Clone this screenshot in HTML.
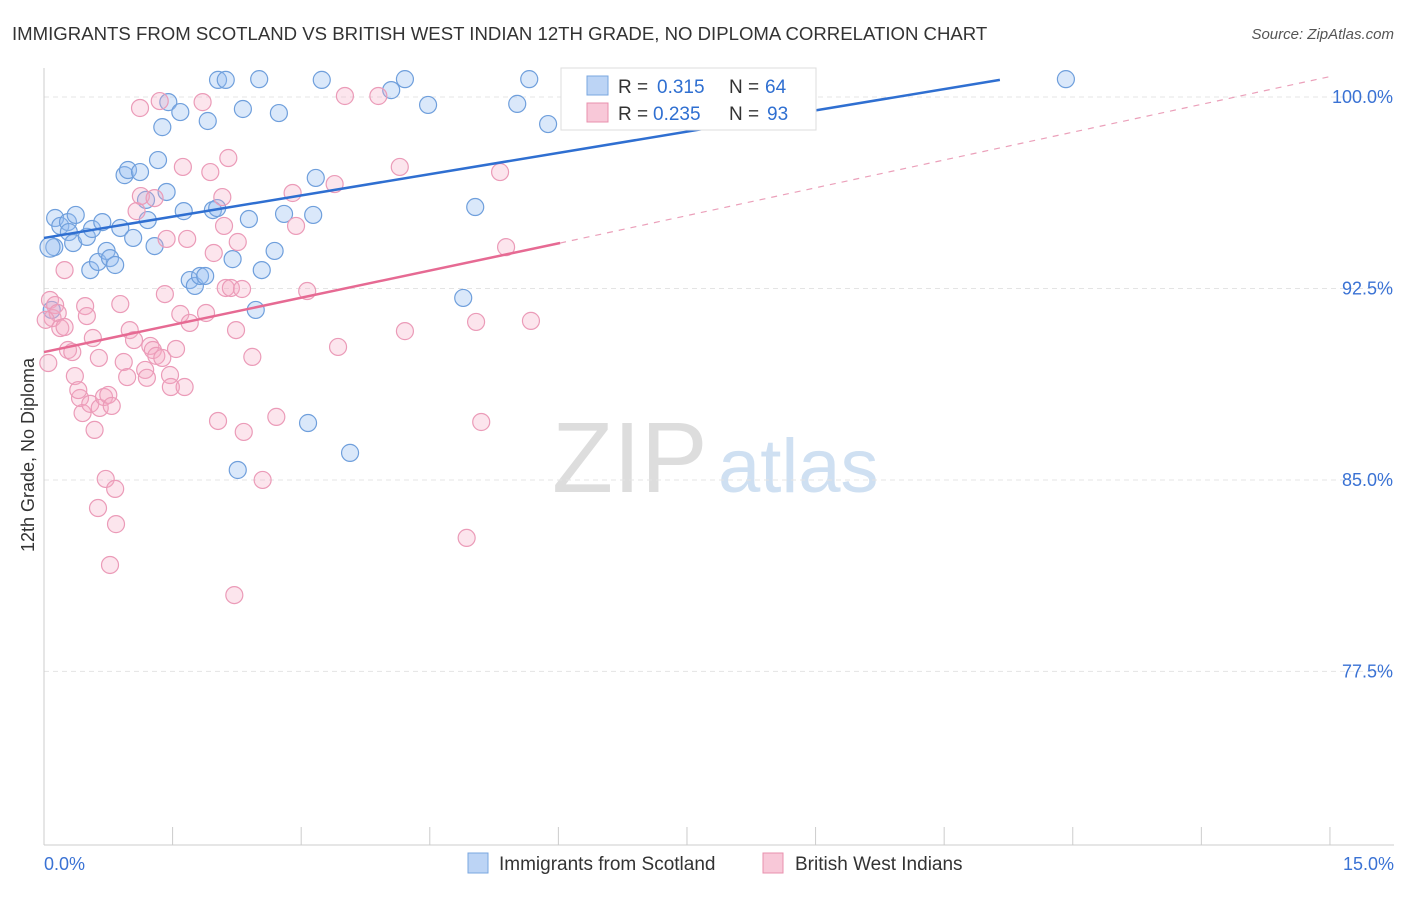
<!DOCTYPE html>
<html><head><meta charset="utf-8"><style>
body{margin:0;background:#fff;font-family:"Liberation Sans",sans-serif}
svg text{font-family:"Liberation Sans",sans-serif}
</style></head><body>
<svg id="c" width="1406" height="892">
<text x="12" y="40" font-size="18.6" fill="#333">IMMIGRANTS FROM SCOTLAND VS BRITISH WEST INDIAN 12TH GRADE, NO DIPLOMA CORRELATION CHART</text>
<text x="1394" y="39" font-size="15" fill="#555" font-style="italic" text-anchor="end">Source: ZipAtlas.com</text>
<text x="34" y="455" font-size="18" fill="#333" text-anchor="middle" transform="rotate(-90 34 455)">12th Grade, No Diploma</text>
<text x="552" y="492" font-size="100" fill="#ddd" font-family="Liberation Serif">ZIP</text>
<text x="718" y="492" font-size="76" fill="#cfe0f2">atlas</text>
<g id="grid"></g><g id="pts"></g><g id="lines"></g>
<g>
<rect x="561" y="68" width="255" height="62" fill="#fff" stroke="#ddd"/>
<rect x="587" y="76" width="21" height="19" fill="#bcd4f5" stroke="#7aa7e0"/>
<text x="618" y="93" font-size="19" fill="#333">R =</text><text x="657" y="93" font-size="19" fill="#2f6fd1">0.315</text>
<text x="729" y="93" font-size="19" fill="#333">N =</text><text x="765" y="93" font-size="19" fill="#2f6fd1">64</text>
<rect x="587" y="103" width="21" height="19" fill="#f8c8d8" stroke="#e890ae"/>
<text x="618" y="120" font-size="19" fill="#333">R =</text><text x="653" y="120" font-size="19" fill="#2f6fd1">0.235</text>
<text x="729" y="120" font-size="19" fill="#333">N =</text><text x="767" y="120" font-size="19" fill="#2f6fd1">93</text>
</g>
<g>
<rect x="468" y="853" width="20" height="20" fill="#bcd4f5" stroke="#7aa7e0"/>
<text x="499" y="870" font-size="19" fill="#333">Immigrants from Scotland</text>
<rect x="763" y="853" width="20" height="20" fill="#f8c8d8" stroke="#e890ae"/>
<text x="795" y="870" font-size="19" fill="#333">British West Indians</text>
</g>
<text x="44" y="870" font-size="18" fill="#3a72d4">0.0%</text>
<text x="1394" y="870" font-size="18" fill="#3a72d4" text-anchor="end">15.0%</text>
</svg>
<script>
const yTicks=[100,92.5,85,77.5];
const yTickLabels=["100.0%","92.5%","85.0%","77.5%"];
const xTicks=[0,1.5,3,4.5,6,7.5,9,10.5,12,13.5,15];
const blueX=[0.13,0.19,0.28,0.37,0.29,0.34,0.12,0.50,0.56,0.68,0.54,0.63,0.73,0.77,0.83,0.89,1.04,0.94,0.98,1.12,1.21,1.19,1.29,1.33,1.38,1.43,1.45,1.59,1.63,1.70,1.76,1.82,1.88,1.91,1.97,2.02,2.03,2.12,2.20,2.32,2.39,2.47,2.51,2.54,2.69,2.74,2.80,3.14,3.17,3.24,3.08,3.57,4.05,4.21,4.48,4.89,5.03,5.52,5.66,5.88,11.92,2.26,0.09,0.07];
const blueY=[95.26,94.95,95.10,95.38,94.71,94.28,94.12,94.52,94.83,95.10,93.22,93.54,93.97,93.69,93.42,94.87,94.48,96.94,97.14,97.06,95.18,95.97,94.16,97.53,98.82,96.28,99.80,99.41,95.53,92.83,92.60,92.99,92.99,99.06,95.57,95.65,100.67,100.67,93.65,99.53,95.22,91.66,100.7,93.22,93.97,99.37,95.42,95.38,96.83,100.67,87.23,86.06,100.27,100.7,99.69,92.13,95.69,99.73,100.7,98.94,100.7,85.39,91.66,94.12];
const pinkX=[0.07,0.13,0.10,0.16,0.19,0.24,0.28,0.33,0.36,0.42,0.45,0.48,0.50,0.54,0.57,0.59,0.64,0.65,0.70,0.72,0.75,0.79,0.83,0.84,0.63,0.77,0.89,0.93,0.97,1.00,1.05,1.08,1.12,1.13,1.18,1.20,1.24,1.27,1.31,1.35,1.38,1.41,1.43,1.47,1.48,1.54,1.59,1.62,1.64,1.67,1.70,1.85,1.89,1.94,1.98,2.03,2.08,2.10,2.12,2.15,2.18,2.22,2.24,2.26,2.31,2.33,2.43,2.55,2.71,2.90,2.94,3.07,3.39,3.43,3.51,3.90,4.15,4.21,4.93,5.04,5.10,5.32,5.39,5.68,0.05,0.02,0.40,1.29,0.24];
const pinkY=[92.05,91.85,91.34,91.54,90.95,90.99,90.09,90.01,89.07,88.21,87.62,91.81,91.42,87.98,90.56,86.96,89.78,87.82,88.25,85.04,88.33,87.90,84.65,83.27,83.90,81.67,91.89,89.62,89.03,90.87,90.48,95.53,99.57,96.12,89.31,89.0,90.25,90.09,89.86,99.84,89.78,92.28,94.44,89.11,88.64,90.13,91.50,97.26,88.64,94.44,91.15,99.80,91.54,97.06,93.89,87.31,96.08,94.95,92.52,97.61,92.52,80.49,90.87,94.32,92.48,86.88,89.82,85.0,87.47,96.24,94.95,92.40,96.59,90.21,100.04,100.04,97.26,90.83,82.73,91.19,87.27,97.06,94.12,91.23,89.58,91.27,88.52,96.04,93.22];
const blueLine=[0,94.48,11.15,100.67];
const pinkLine=[0,90.01,6.02,94.28];
const pinkDashEnd=[15,100.8];
const X=v=>44+v*85.73, Y=v=>97+(100-v)*25.53;
const NS="http://www.w3.org/2000/svg";
function mk(t,a,p){const e=document.createElementNS(NS,t);for(const k in a)e.setAttribute(k,a[k]);p.appendChild(e);return e;}
const grid=document.getElementById('grid');
yTicks.forEach((t,i)=>{
 const l=mk('line',{x1:44,x2:1394,y1:Y(t),y2:Y(t),stroke:'#e4e4e4','stroke-dasharray':'5 4'},grid);
 
 
 const tx=mk('text',{x:1393,y:Y(t)+6,'font-size':18,fill:'#3a72d4','text-anchor':'end'},grid);
 tx.textContent=yTickLabels[i];
 
 
});
const ax=mk('line',{x1:44,x2:44,y1:68,y2:845,stroke:'#ccc'},grid);


const bx=mk('line',{x1:44,x2:1394,y1:845,y2:845,stroke:'#ccc'},grid);


xTicks.forEach(t=>{
 const l=mk('line',{x1:X(t),x2:X(t),y1:827,y2:845,stroke:'#ccc'},grid);
 
 
});
const pts=document.getElementById('pts');
blueX.forEach((v,i)=>{
 const c=mk('circle',{cx:X(v),cy:Y(blueY[i]),r:i==blueX.length-1?10:8.5,fill:'rgba(150,190,240,0.35)',stroke:'#6f9fdc','stroke-width':1.2},pts);
 
 
});
pinkX.forEach((v,i)=>{
 const c=mk('circle',{cx:X(v),cy:Y(pinkY[i]),r:8.5,fill:'rgba(245,170,195,0.3)',stroke:'#eb9bb8','stroke-width':1.2},pts);
 
 
});
const lines=document.getElementById('lines');
const d=mk('line',{x1:X(pinkLine[2]),y1:Y(pinkLine[3]),x2:X(pinkDashEnd[0]),y2:Y(pinkDashEnd[1]),stroke:'#eba0ba','stroke-width':1.2,'stroke-dasharray':'6 6'},lines);


const bl=mk('line',{x1:X(blueLine[0]),y1:Y(blueLine[1]),x2:X(blueLine[2]),y2:Y(blueLine[3]),stroke:'#2f6fd1','stroke-width':2.5},lines);


const pl=mk('line',{x1:X(pinkLine[0]),y1:Y(pinkLine[1]),x2:X(pinkLine[2]),y2:Y(pinkLine[3]),stroke:'#e66a93','stroke-width':2.5},lines);


</script>
</body></html>
